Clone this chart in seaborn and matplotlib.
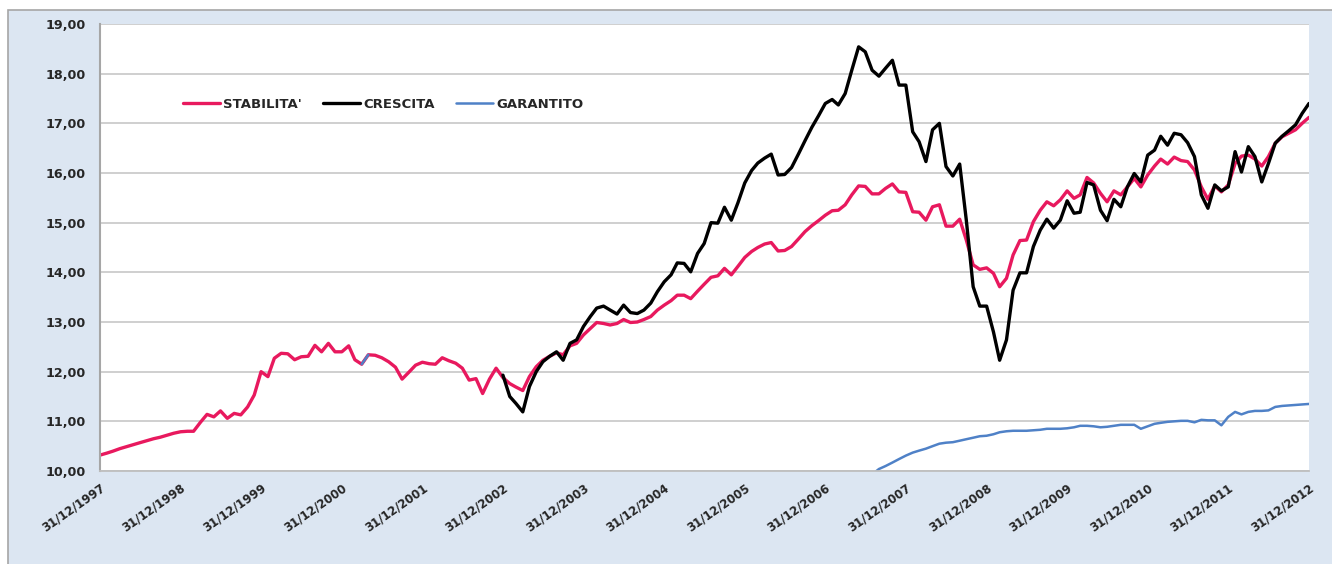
import matplotlib
matplotlib.use('Agg')
import matplotlib.pyplot as plt
import matplotlib.dates as mdates
from matplotlib.patches import Rectangle
from matplotlib.ticker import FuncFormatter
import numpy as np
import pandas as pd
import seaborn as sns

# monthly values, 31/12/1997 -> 31/12/2012 (181 month ends)
stabilita = [
    10.32, 10.36, 10.40, 10.45, 10.49, 10.53, 10.57, 10.61, 10.65, 10.68, 10.72, 10.76,
    10.79, 10.80, 10.80, 10.98, 11.14, 11.09, 11.21, 11.06, 11.16, 11.13, 11.29, 11.53,
    12.00, 11.90, 12.27, 12.37, 12.36, 12.24, 12.30, 12.31, 12.53, 12.40, 12.57, 12.40,
    12.40, 12.52, 12.24, 12.15, 12.34, 12.33, 12.28, 12.20, 12.09, 11.85, 11.99, 12.13,
    12.19, 12.16, 12.15, 12.28, 12.22, 12.17, 12.07, 11.83, 11.86, 11.56, 11.85, 12.07,
    11.88, 11.76, 11.69, 11.62, 11.90, 12.10, 12.23, 12.31, 12.38, 12.34, 12.52, 12.57,
    12.74, 12.87, 12.99, 12.97, 12.94, 12.97, 13.05, 12.99, 13.00, 13.05, 13.11, 13.24,
    13.34, 13.43, 13.54, 13.54, 13.47, 13.62, 13.76, 13.90, 13.93, 14.08, 13.95, 14.12,
    14.30, 14.42, 14.50, 14.57, 14.60, 14.43, 14.44, 14.52, 14.67, 14.82, 14.94, 15.04,
    15.15, 15.24, 15.25, 15.36, 15.56, 15.74, 15.73, 15.58, 15.58, 15.69, 15.78, 15.62,
    15.61, 15.22, 15.21, 15.05, 15.32, 15.36, 14.93, 14.93, 15.07, 14.65, 14.15, 14.06,
    14.09, 13.98, 13.71, 13.88, 14.35, 14.64, 14.65, 15.02, 15.25, 15.42, 15.34, 15.46,
    15.64, 15.49, 15.56, 15.91, 15.80, 15.59, 15.42, 15.64, 15.56, 15.72, 15.89, 15.72,
    15.96, 16.14, 16.28, 16.18, 16.32, 16.25, 16.23, 16.06, 15.72, 15.47, 15.74, 15.62,
    15.76, 16.19, 16.34, 16.36, 16.28, 16.14, 16.33, 16.60, 16.73, 16.80, 16.87, 17.00,
    17.12,
]

# CRESCITA starts on 31/12/2002
crescita = [np.nan] * 60 + [
    11.93, 11.50, 11.36, 11.19, 11.70, 12.00, 12.20, 12.31, 12.40, 12.23, 12.57, 12.64,
    12.91, 13.11, 13.28, 13.32, 13.24, 13.16, 13.34, 13.19, 13.17, 13.24, 13.38, 13.61,
    13.81, 13.95, 14.19, 14.18, 14.01, 14.38, 14.58, 15.00, 14.99, 15.31, 15.05, 15.40,
    15.80, 16.05, 16.20, 16.30, 16.38, 15.96, 15.97, 16.11, 16.38, 16.65, 16.92, 17.15,
    17.40, 17.48, 17.37, 17.60, 18.07, 18.54, 18.44, 18.07, 17.95, 18.11, 18.27, 17.77,
    17.77, 16.83, 16.63, 16.23, 16.87, 17.00, 16.13, 15.94, 16.18, 15.05, 13.71, 13.32,
    13.32, 12.80, 12.23, 12.64, 13.64, 13.99, 13.99, 14.52, 14.85, 15.07, 14.89, 15.05,
    15.44, 15.19, 15.21, 15.81, 15.76, 15.25, 15.04, 15.47, 15.32, 15.72, 15.99, 15.82,
    16.36, 16.46, 16.74, 16.56, 16.80, 16.77, 16.61, 16.33, 15.56, 15.29, 15.76, 15.64,
    15.72, 16.43, 16.02, 16.53, 16.33, 15.82, 16.19, 16.60, 16.74, 16.85, 16.97, 17.20,
    17.40,
]

garantito = [np.nan] * 39 + [12.15, 12.34] + [np.nan] * 74 + [
    9.93, 10.04, 10.10, 10.17, 10.24,
    10.31, 10.37, 10.41, 10.45, 10.50, 10.55, 10.57, 10.58, 10.61, 10.64, 10.67, 10.70,
    10.71, 10.74, 10.78, 10.80, 10.81, 10.81, 10.81, 10.82, 10.83, 10.85, 10.85, 10.85,
    10.86, 10.88, 10.91, 10.91, 10.90, 10.88, 10.89, 10.91, 10.93, 10.93, 10.93, 10.85,
    10.90, 10.95, 10.97, 10.99, 11.00, 11.01, 11.01, 10.98, 11.03, 11.02, 11.02, 10.92,
    11.09, 11.19, 11.14, 11.19, 11.21, 11.21, 11.22, 11.29, 11.31, 11.32, 11.33, 11.34,
    11.35,
]

series_names = ["STABILITA'", 'CRESCITA', 'GARANTITO']
series_colors = ['#e8195e', '#000000', '#4f81c7']
series_widths = [2.4, 2.4, 1.8]

dates = pd.date_range('1997-12-31', '2012-12-31', freq='ME')
df = pd.DataFrame({'date': dates, series_names[0]: stabilita,
                   series_names[1]: crescita, series_names[2]: garantito})

sns.set_style('white')
plt.rcParams['font.family'] = ['DejaVu Sans']

fig = plt.figure(figsize=(13.32, 5.64), dpi=100, facecolor='white')
# light blue chart area, open to the right and bottom
panel = Rectangle((8 / 1332, -0.05), 1.2, (564 - 10) / 564 + 0.05,
                  transform=fig.transFigure, facecolor='#dce6f2',
                  edgecolor='#a6a6a6', linewidth=1.2, zorder=-10)
fig.patches.append(panel)
ax = fig.add_axes([100 / 1332, 1 - 471 / 564, (1309 - 100) / 1332, (471 - 24) / 564])
ax.set_zorder(5)
ax.set_facecolor('white')

for name, color, lw in zip(series_names, series_colors, series_widths):
    s = df[['date', name]].copy()
    valid = s[name].notna()
    run_id = (~valid).cumsum()
    first = True
    for _, part in s[valid].groupby(run_id[valid]):
        sns.lineplot(data=part, x='date', y=name, color=color, linewidth=lw, ax=ax,
                     label=name if first else None, legend=False)
        first = False

ax.set_ylim(10, 19)
ax.set_yticks(np.arange(10, 19.5, 1))
ax.yaxis.set_major_formatter(FuncFormatter(lambda v, p: f'{v:.2f}'.replace('.', ',')))
ax.set_xlim(dates[0], dates[-1])
year_ticks = pd.date_range('1997-12-31', '2012-12-31', freq='YE')
ax.set_xticks(year_ticks)
ax.xaxis.set_major_formatter(mdates.DateFormatter('%d/%m/%Y'))

ax.grid(axis='y', color='#cccccc', linewidth=1.3)
ax.set_axisbelow(True)
for side in ['top', 'right']:
    ax.spines[side].set_visible(False)
ax.spines['left'].set_color('#a6a6a6')
ax.spines['left'].set_linewidth(1.5)
ax.spines['bottom'].set_color('#bfbfbf')
ax.spines['bottom'].set_linewidth(1.3)
ax.tick_params(axis='both', length=4, width=1, color='#a6a6a6',
               labelcolor='#262626', direction='out')
ax.tick_params(axis='x', labelsize=8.5)
ax.tick_params(axis='y', labelsize=9.2, pad=6)
for lab in ax.get_yticklabels():
    lab.set_fontweight('bold')
for lab in ax.get_xticklabels():
    lab.set_fontweight('bold')
    lab.set_rotation(35)
    lab.set_ha('right')
    lab.set_rotation_mode('anchor')
ax.set_xlabel('')
ax.set_ylabel('')

leg = ax.legend(ncol=3, loc='center left', bbox_to_anchor=(0.0686, 0.821),
                frameon=False, fontsize=9.5, handlelength=2.8, handletextpad=0.25,
                columnspacing=1.6, borderpad=0, borderaxespad=0)
for t in leg.get_texts():
    t.set_fontweight('bold')
    t.set_color('#262626')

fig.savefig('out.png', dpi=100, facecolor='white')
